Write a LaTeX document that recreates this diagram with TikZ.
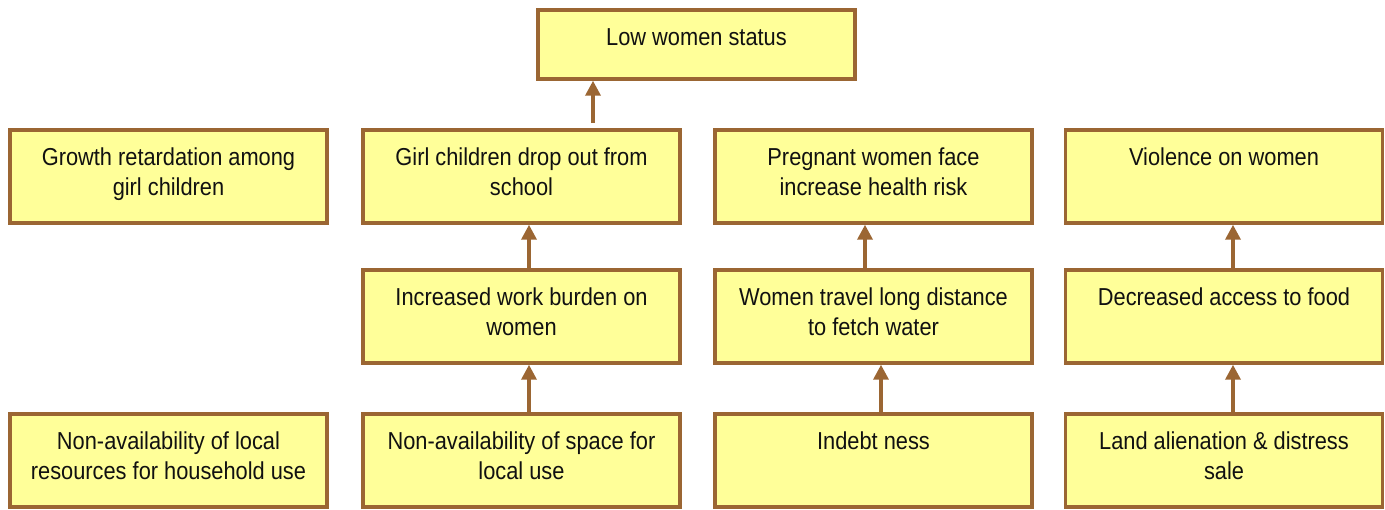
\documentclass[tikz,border=0pt]{standalone}
\usepackage{fontspec}
\setmainfont{Liberation Sans}[FakeStretch=0.89]
\usetikzlibrary{arrows.meta}
\definecolor{boxline}{HTML}{9B6633}
\definecolor{boxfill}{HTML}{FFFF99}
\definecolor{ink}{HTML}{111111}
% text set from the top of a box of the given height
\newcommand\celltext[2]{\parbox[c][#1][t]{310pt}{\centering\rule{0pt}{36pt}#2\par}}
\tikzset{
  cause/.style={draw=boxline, fill=boxfill, line width=3.5pt, rectangle,
    inner sep=0pt, minimum width=317pt, minimum height=93pt, text=ink,
    font=\fontsize{24.5}{30}\selectfont},
  link/.style={draw=boxline, line width=3.5pt, -{Triangle[width=15pt,length=15pt]}},
}
\begin{document}
\begin{tikzpicture}[x=1pt,y=1pt]
\useasboundingbox (0,0) rectangle (1385,-510);
% top
\node[cause, minimum height=69pt] (top) at (696.5,-44.5) {\celltext{69pt}{Low women status}};
% row 1
\node[cause] (a1) at (168.5,-176.5) {\celltext{93pt}{Growth retardation among\\girl children}};
\node[cause] (b1) at (521.5,-176.5) {\celltext{93pt}{Girl children drop out from\\school}};
\node[cause] (c1) at (873.5,-176.5) {\celltext{93pt}{Pregnant women face\\increase health risk}};
\node[cause] (d1) at (1224,-176.5) {\celltext{93pt}{Violence on women}};
% row 2
\node[cause] (b2) at (521.5,-316.5) {\celltext{93pt}{Increased work burden on\\women}};
\node[cause] (c2) at (873.5,-316.5) {\celltext{93pt}{Women travel long distance\\to fetch water}};
\node[cause] (d2) at (1224,-316.5) {\celltext{93pt}{Decreased access to food}};
% row 3
\node[cause] (a3) at (168.5,-460.5) {\celltext{93pt}{Non-availability of local\\resources for household use}};
\node[cause] (b3) at (521.5,-460.5) {\celltext{93pt}{Non-availability of space for\\local use}};
\node[cause] (c3) at (873.5,-460.5) {\celltext{93pt}{Indebt ness}};
\node[cause] (d3) at (1224,-460.5) {\celltext{93pt}{Land alienation \& distress\\sale}};
% connectors
\coordinate (t0) at ([shift={(71.5,5)}]b1.north);
\draw[link] (t0) -- (t0 |- top.south);
\coordinate (b2s) at ([xshift=7.5]b2.north);
\draw[link] (b2s) -- (b2s |- b1.south);
\coordinate (c2s) at ([xshift=-8.5]c2.north);
\draw[link] (c2s) -- (c2s |- c1.south);
\coordinate (d2s) at ([xshift=9]d2.north);
\draw[link] (d2s) -- (d2s |- d1.south);
\coordinate (b3s) at ([xshift=7.5]b3.north);
\draw[link] (b3s) -- (b3s |- b2.south);
\coordinate (c3s) at ([xshift=7.5]c3.north);
\draw[link] (c3s) -- (c3s |- c2.south);
\coordinate (d3s) at ([xshift=9]d3.north);
\draw[link] (d3s) -- (d3s |- d2.south);
\end{tikzpicture}
\end{document}
